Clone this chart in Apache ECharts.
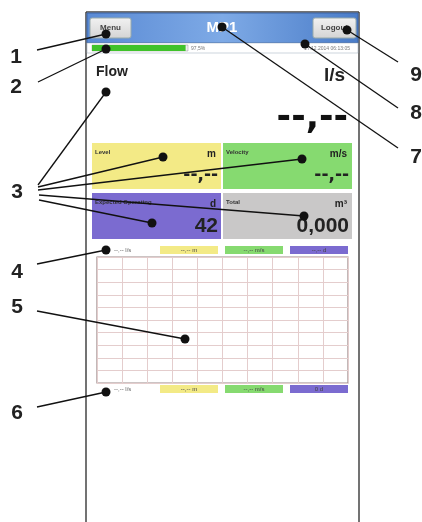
<!DOCTYPE html>
<html>
<head>
<meta charset="utf-8">
<script src="https://cdn.jsdelivr.net/npm/echarts@6/dist/echarts.min.js"></script>
<style>
  html, body { margin: 0; padding: 0; background: #fff; }
  #chart { width: 422px; height: 522px; }
</style>
</head>
<body>
<div id="chart"></div>
<script>
// screen content
const title = 'MP1';
const batteryPct = 97.5;
const batteryText = '97,5%';
const clockText = '17.12.2014 06:13:05';
const mainName = 'Flow';
const mainUnit = 'l/s';
const mainValue = '--,--';
const tileNames = ['Level', 'Velocity', 'Expected Operating', 'Total'];
const tileUnits = ['m', 'm/s', 'd', 'm³'];
const tileValues = ['--,--', '--,--', '42', '0,000'];
const legendTop = ['--,-- l/s', '--,-- m', '--,-- m/s', '--,-- d'];
const legendBottom = ['--,-- l/s', '--,-- m', '--,-- m/s', '0 d'];
// empty trend plot: 10 x 10 divisions
const xTicks = [0, 1, 2, 3, 4, 5, 6, 7, 8, 9, 10];
const yTicks = [0, 1, 2, 3, 4, 5, 6, 7, 8, 9, 10];
const trend = [];
// callout numbers
const callouts = ['1', '2', '3', '4', '5', '6', '7', '8', '9'];

const tileColors = ['#f3ea86', '#86da70', '#7b6bd0', '#c9c8c8'];
const chipColors = ['#f3ea86', '#86da70', '#7b6bd0'];

const chart = echarts.init(document.getElementById('chart'));
const font = 'Liberation Sans, Arial, sans-serif';
const dash = 'DejaVu Sans, sans-serif';

let g = [];

// device frame
g.push({ type: 'line', shape: { x1: 86, y1: 12, x2: 86, y2: 522 }, style: { stroke: '#444', lineWidth: 1.5 } });
g.push({ type: 'line', shape: { x1: 359, y1: 12, x2: 359, y2: 522 }, style: { stroke: '#444', lineWidth: 1.5 } });
g.push({ type: 'line', shape: { x1: 86, y1: 12, x2: 359, y2: 12 }, style: { stroke: '#444', lineWidth: 1.5 } });

// header
g.push({ type: 'rect', shape: { x: 87, y: 13, width: 271, height: 30 },
  style: { fill: new echarts.graphic.LinearGradient(0, 0, 1, 0, [
    { offset: 0, color: '#5a8ad4' }, { offset: 0.5, color: '#7eaae6' }, { offset: 1, color: '#4a7cc8' }]),
    stroke: '#3b64a8', lineWidth: 1 } });
g.push({ type: 'text', style: { x: 222, y: 28, text: title, fill: '#fff', font: 'bold 15px ' + font, textAlign: 'center', textVerticalAlign: 'middle' } });
[[90, 'Menu'], [313, 'Logout']].forEach(([x, t]) => {
  g.push({ type: 'rect', shape: { x: x, y: 18, width: x === 90 ? 41 : 43, height: 20, r: 2 },
    style: { fill: new echarts.graphic.LinearGradient(0, 0, 0, 1, [{ offset: 0, color: '#f2f2f2' }, { offset: 1, color: '#d4d4d4' }]), stroke: '#9aa', lineWidth: 1 } });
  g.push({ type: 'text', style: { x: x + (x === 90 ? 20.5 : 21.5), y: 28, text: t, fill: '#444', font: 'bold 8px ' + font, textAlign: 'center', textVerticalAlign: 'middle' } });
});

// status row
g.push({ type: 'rect', shape: { x: 87, y: 43, width: 271, height: 10 }, style: { fill: '#fff', stroke: '#9ab', lineWidth: 0.5 } });
g.push({ type: 'rect', shape: { x: 92, y: 45, width: 96, height: 6 }, style: { fill: '#eee', stroke: '#999', lineWidth: 0.5 } });
g.push({ type: 'rect', shape: { x: 92, y: 45, width: 96 * batteryPct / 100, height: 6 }, style: { fill: '#3fc22a' } });
g.push({ type: 'text', style: { x: 191, y: 48.5, text: batteryText, fill: '#777', font: '5px ' + font, textVerticalAlign: 'middle' } });
g.push({ type: 'text', style: { x: 350, y: 48.5, text: clockText, fill: '#777', font: '5px ' + font, textAlign: 'right', textVerticalAlign: 'middle' } });

// main value
g.push({ type: 'text', style: { x: 96, y: 72, text: mainName, fill: '#222', font: 'bold 14px ' + font, textVerticalAlign: 'middle' } });
g.push({ type: 'text', style: { x: 345, y: 76, text: mainUnit, fill: '#222', font: 'bold 19px ' + font, textAlign: 'right', textVerticalAlign: 'middle' } });
g.push({ type: 'text', style: { x: 348, y: 119, text: mainValue, fill: '#111', font: 'bold 35px ' + dash, textAlign: 'right', textVerticalAlign: 'middle' } });

// tiles
const tileBoxes = [[92, 143], [223, 143], [92, 193], [223, 193]];
tileNames.forEach((name, i) => {
  const [x, y] = tileBoxes[i];
  const big = i >= 2;
  g.push({ type: 'rect', shape: { x: x, y: y, width: 129, height: 46 }, style: { fill: tileColors[i] } });
  g.push({ type: 'text', style: { x: x + 3, y: y + 9, text: name, fill: '#333', font: 'bold 6px ' + font, textVerticalAlign: 'middle' } });
  g.push({ type: 'text', style: { x: x + 124, y: y + 11, text: tileUnits[i], fill: '#222', font: 'bold 10px ' + font, textAlign: 'right', textVerticalAlign: 'middle' } });
  g.push({ type: 'text', style: { x: x + 126, y: y + 33, text: tileValues[i], fill: '#222',
    font: big ? 'bold 21px ' + font : 'bold 17px ' + dash, textAlign: 'right', textVerticalAlign: 'middle' } });
});

// legend chips above and below the plot
[[250, legendTop], [389, legendBottom]].forEach(([cy, labels]) => {
  g.push({ type: 'text', style: { x: 114, y: cy, text: labels[0], fill: '#666', font: '6px ' + font, textVerticalAlign: 'middle' } });
  [[160, 58], [225, 58], [290, 58]].forEach(([x, w], k) => {
    g.push({ type: 'rect', shape: { x: x, y: cy - 4, width: w, height: 8 }, style: { fill: chipColors[k] } });
    g.push({ type: 'text', style: { x: x + w / 2, y: cy, text: labels[k + 1], fill: '#444', font: '6px ' + font, textAlign: 'center', textVerticalAlign: 'middle' } });
  });
});

// callout numbers and leader lines
const leftNum = [[16, 57], [16, 87], [17, 192], [17, 272], [17, 307], [17, 413]];
const rightNum = [[416, 157], [416, 113], [416, 75]];
callouts.forEach((c, i) => {
  const p = i < 6 ? leftNum[i] : rightNum[i - 6];
  g.push({ type: 'text', style: { x: p[0], y: p[1], text: c, fill: '#222', font: 'bold 21px ' + font, textAlign: 'center', textVerticalAlign: 'middle' } });
});
const leaders = [
  [37, 50, 106, 34], [38, 82, 106, 49],
  [38, 185, 106, 92], [38, 187, 163, 157], [38, 190, 302, 159], [39, 195, 304, 216], [39, 200, 152, 223],
  [37, 264, 106, 250], [37, 311, 185, 339], [37, 407, 106, 392],
  [398, 148, 222, 27], [398, 108, 305, 44], [398, 62, 347, 30]
];
leaders.forEach(([x1, y1, x2, y2]) => {
  g.push({ type: 'line', z: 20, shape: { x1, y1, x2, y2 }, style: { stroke: '#111', lineWidth: 1.3 } });
  g.push({ type: 'circle', z: 21, shape: { cx: x2, cy: y2, r: 4.5 }, style: { fill: '#111' } });
});

const option = {
  animation: false,
  grid: {
    left: 97, top: 257, width: 251, height: 126,
    show: true, borderColor: '#9a8a8a', borderWidth: 1.2, backgroundColor: '#fff'
  },
  xAxis: {
    type: 'value', min: xTicks[0], max: xTicks[xTicks.length - 1], interval: 1,
    axisLine: { show: false }, axisTick: { show: false }, axisLabel: { show: false },
    splitLine: { lineStyle: { color: '#e4cdcd', width: 1 } }
  },
  yAxis: {
    type: 'value', min: yTicks[0], max: yTicks[yTicks.length - 1], interval: 1,
    axisLine: { show: false }, axisTick: { show: false }, axisLabel: { show: false },
    splitLine: { lineStyle: { color: '#e4cdcd', width: 1 } }
  },
  series: [{ type: 'line', data: trend, symbol: 'none' }],
  graphic: g
};
chart.setOption(option);
</script>
</body>
</html>
